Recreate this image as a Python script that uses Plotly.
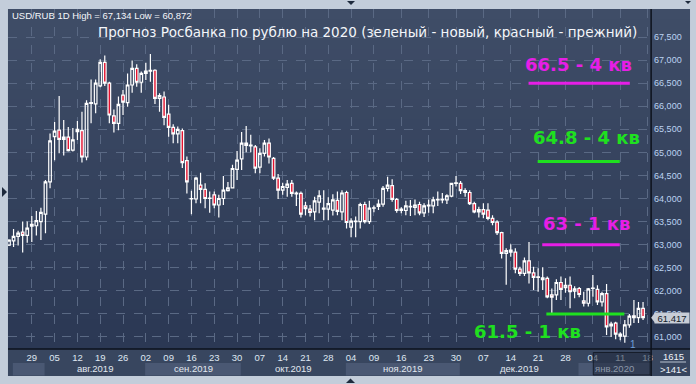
import plotly.graph_objects as go

W, H = 696, 384

# ---------------- data ----------------
opens = [62.99, 63.08, 63.18, 63.27, 63.20, 63.40, 63.41, 63.50, 63.66, 64.36,
         65.34, 65.48, 65.28, 65.33, 65.05, 65.45, 65.47, 64.90, 66.06, 66.05,
         66.44, 66.95, 66.50, 65.79, 65.63, 66.24, 66.08, 66.46, 66.82, 66.52,
         66.71, 66.76, 66.78, 66.17, 66.20, 65.83, 65.54, 65.40, 65.47, 64.82,
         63.99, 63.99, 64.29, 64.20, 64.00, 64.08, 63.86, 64.00, 64.17, 64.23,
         64.63, 64.86, 65.20, 65.14, 65.12, 64.68, 64.98, 65.20, 64.87, 64.44,
         64.18, 64.24, 64.33, 64.10, 64.11, 63.84, 63.77, 63.71, 63.92, 63.77,
         63.77, 63.75, 63.96, 63.71, 64.13, 63.38, 63.50, 63.50, 63.87, 63.50,
         63.79, 63.83, 63.88, 64.22, 64.28, 63.98, 63.74, 63.74, 63.82, 63.81,
         63.87, 63.69, 63.84, 63.84, 63.97, 63.97, 63.97, 64.05, 64.33, 64.33,
         64.17, 64.13, 63.89, 63.71, 63.76, 63.75, 63.57, 63.49, 63.26, 62.81,
         62.88, 62.84, 62.47, 62.38, 62.65, 62.39, 62.29, 62.28, 62.27, 61.91,
         61.91, 62.18, 62.07, 62.12, 61.99, 62.05, 61.78, 61.73, 62.05, 62.03,
         61.76, 61.94, 61.28, 61.30, 61.06, 61.02, 61.26, 61.46, 61.42, 61.62]
highs = [63.12, 63.34, 63.30, 63.50, 63.50, 63.62, 63.73, 63.80, 64.40, 65.41,
         65.66, 66.22, 65.70, 65.55, 65.53, 65.68, 65.88, 66.13, 66.58, 66.58,
         67.02, 67.10, 66.53, 65.93, 66.21, 66.35, 66.71, 66.99, 66.91, 66.75,
         66.94, 67.134, 66.80, 66.28, 66.32, 66.03, 65.61, 65.56, 65.52, 64.91,
         64.17, 64.47, 64.56, 64.33, 64.15, 64.15, 64.08, 64.49, 64.36, 64.73,
         65.03, 65.44, 65.57, 65.38, 65.16, 65.09, 65.27, 65.30, 64.90, 64.53,
         64.34, 64.40, 64.40, 64.15, 64.15, 63.93, 63.86, 64.04, 64.18, 64.18,
         64.03, 64.09, 64.15, 64.18, 64.17, 63.57, 63.61, 63.91, 63.93, 63.95,
         63.85, 63.98, 64.27, 64.47, 64.42, 64.01, 63.81, 63.95, 63.97, 63.98,
         63.93, 63.90, 63.98, 64.04, 64.15, 64.12, 64.09, 64.34, 64.49, 64.38,
         64.22, 64.18, 63.93, 63.82, 63.90, 63.90, 63.64, 63.53, 63.28, 62.92,
         63.01, 62.92, 62.52, 62.72, 63.06, 62.52, 62.49, 62.51, 62.31, 62.05,
         62.25, 62.31, 62.27, 62.31, 62.10, 62.08, 61.98, 62.06, 62.34, 62.12,
         61.98, 62.15, 61.33, 61.33, 61.10, 61.37, 61.50, 61.80, 61.76, 61.76]
lows = [62.97, 62.95, 62.98, 62.83, 63.04, 63.06, 63.20, 63.10, 63.25, 64.22,
        64.83, 64.98, 64.93, 65.02, 65.02, 65.27, 64.78, 64.83, 65.63, 65.85,
        66.41, 66.44, 65.63, 65.43, 65.48, 65.81, 65.99, 66.29, 66.42, 66.29,
        66.57, 66.53, 66.05, 65.88, 65.59, 65.34, 65.20, 65.20, 64.66, 64.11,
        63.66, 63.90, 63.90, 63.79, 63.69, 63.79, 63.59, 63.86, 64.15, 64.22,
        64.40, 64.62, 65.00, 65.00, 64.55, 64.55, 64.91, 64.76, 64.40, 63.99,
        64.08, 64.04, 64.04, 63.84, 63.59, 63.64, 63.61, 63.53, 63.68, 63.53,
        63.53, 63.63, 63.64, 63.53, 63.35, 63.16, 63.16, 63.35, 63.46, 63.45,
        63.70, 63.75, 63.82, 64.15, 63.93, 63.69, 63.68, 63.64, 63.62, 63.64,
        63.64, 63.60, 63.69, 63.68, 63.84, 63.90, 63.88, 64.03, 64.26, 64.10,
        64.04, 63.86, 63.68, 63.59, 63.57, 63.53, 63.42, 63.21, 62.70, 62.13,
        62.74, 62.38, 62.32, 62.32, 62.16, 62.02, 61.98, 62.02, 61.84, 61.51,
        61.80, 61.80, 61.96, 61.62, 61.84, 61.86, 61.66, 61.66, 61.87, 61.69,
        61.66, 61.04, 61.00, 60.95, 60.93, 60.872, 61.20, 61.30, 61.30, 61.37]
closes = [63.10, 63.18, 63.25, 63.20, 63.36, 63.44, 63.52, 63.70, 64.36, 65.25,
          65.46, 65.28, 65.33, 65.04, 65.27, 65.50, 64.90, 66.06, 66.08, 66.50,
          66.95, 66.50, 65.81, 65.63, 66.04, 66.09, 66.46, 66.82, 66.52, 66.71,
          66.76, 66.78, 66.17, 66.23, 65.76, 65.54, 65.40, 65.50, 64.78, 64.36,
          64.00, 64.44, 64.20, 64.00, 64.01, 63.86, 64.00, 64.18, 64.23, 64.65,
          64.83, 65.20, 65.15, 65.16, 64.66, 64.98, 65.20, 64.90, 64.44, 64.18,
          64.26, 64.31, 64.11, 64.12, 63.66, 63.78, 63.70, 63.95, 64.06, 63.79,
          63.89, 63.97, 63.72, 64.12, 63.48, 63.51, 63.51, 63.87, 63.50, 63.79,
          63.80, 63.88, 64.22, 64.29, 63.98, 63.74, 63.77, 63.84, 63.83, 63.86,
          63.69, 63.84, 63.86, 63.97, 63.98, 63.98, 64.06, 64.33, 64.34, 64.17,
          64.13, 63.89, 63.71, 63.76, 63.66, 63.57, 63.48, 63.26, 62.81, 62.87,
          62.84, 62.47, 62.38, 62.65, 62.39, 62.29, 62.30, 62.24, 61.87, 61.86,
          62.18, 62.03, 62.12, 61.98, 62.04, 61.92, 61.73, 62.04, 62.06, 61.76,
          61.94, 61.22, 61.24, 61.06, 61.02, 61.26, 61.45, 61.42, 61.62, 61.417]
bar_idx = list(range(len(closes)))

price_ticks = [61.0, 61.5, 62.0, 62.5, 63.0, 63.5, 64.0, 64.5, 65.0, 65.5,
               66.0, 66.5, 67.0, 67.5]

date_tick_idx = [5, 10, 15, 20, 25, 30, 35, 40, 45, 50, 55, 60, 65, 70, 75,
                 80, 86, 92, 98, 104, 110, 116, 122, 128, 134, 140]
date_tick_labels = ["29", "05", "12", "19", "26", "02", "09", "16", "23", "30",
                    "07", "14", "21", "28", "04", "09", "16", "23", "30", "07",
                    "14", "21", "28", "04", "11", "18"]

month_start_idx = [1, 8, 30, 51, 74, 99, 125]
month_labels = ["июл.2019", "авг.2019", "сен.2019", "окт.2019", "ноя.2019",
                "дек.2019", "янв.2020"]

forecast_levels = [66.5, 64.8, 63.0, 61.5]
forecast_quarters = [4, 4, 1, 1]
forecast_is_new = [False, True, False, True]   # green = new, magenta = previous

title_text = "Прогноз Росбанка по рублю на 2020 (зеленый - новый, красный - прежний)"
symbol_text = "USD/RUB 1D"
bars_total = 1615
bars_visible = 141

# ---------------- helpers ----------------
def px(x):
    return x / W

def py(y):
    return 1 - y / H

X0, X1 = -0.22, 140.77           # visible bar-index range
Y0, Y1 = 60.739, 68.107          # visible price range

def fmt_price(v):
    return f"{v:.3f}".replace(".", ",")

FRAME = "#c3cdda"
shapes = []

# gradient background for plot + right axis panel
top_c = (63, 77, 103)
bot_c = (43, 56, 84)
n = 34
for k in range(n):
    t = k / (n - 1)
    c = tuple(int(round(top_c[j] + (bot_c[j] - top_c[j]) * t)) for j in range(3))
    ya = 9 + k * 10
    shapes.append(dict(type="rect", xref="paper", yref="paper", layer="below",
                       x0=px(8), x1=px(692), y0=py(ya + 10.5), y1=py(ya),
                       fillcolor=f"rgb{c}", line=dict(width=0)))

# date axis strip
shapes.append(dict(type="rect", xref="paper", yref="paper", layer="below",
                   x0=px(8), x1=px(692), y0=py(376), y1=py(349),
                   fillcolor="#38465f", line=dict(width=0)))
# month bands
for k, s in enumerate(month_start_idx):
    e = month_start_idx[k + 1] if k + 1 < len(month_start_idx) else X1 + 0.15
    col = "#4a5873" if k % 2 == 0 else "#38465f"
    shapes.append(dict(type="rect", xref="x", yref="paper", layer="below",
                       x0=s - 0.15, x1=e - 0.15, y0=py(375.5), y1=py(363),
                       fillcolor=col, line=dict(width=0)))

# forecast level lines
spans = {66.5: (113.9, 136.1), 64.8: (115.9, 133.9),
         63.0: (116.9, 133.9), 61.5: (117.8, 134.9)}
for lvl, isnew in zip(forecast_levels, forecast_is_new):
    col = "#1fe01f" if isnew else "#e61ee6"
    a, b = spans[lvl]
    shapes.append(dict(type="line", xref="x", yref="y", x0=a, x1=b, y0=lvl, y1=lvl,
                       line=dict(color=col, width=3), layer="above"))

# separators
shapes.append(dict(type="line", xref="paper", yref="paper", x0=px(653), x1=px(653),
                   y0=py(376), y1=py(9), line=dict(color="#0d121c", width=1.5), layer="above"))
shapes.append(dict(type="line", xref="paper", yref="paper", x0=px(8), x1=px(692),
                   y0=py(349), y1=py(349), line=dict(color="#0d121c", width=1.5), layer="above"))
# dim overlay box over current period on date strip
shapes.append(dict(type="rect", xref="paper", yref="paper", x0=px(595), x1=px(652),
                   y0=py(375), y1=py(352.5), fillcolor="rgba(32,42,60,0.55)",
                   line=dict(color="rgba(20,26,38,0.9)", width=1), layer="above"))
# line in corner panel
shapes.append(dict(type="line", xref="paper", yref="paper", x0=px(662), x1=px(688),
                   y0=py(362), y1=py(362), line=dict(color="#b8c2d0", width=1), layer="above"))
# price marker arrow
shapes.append(dict(type="path", xref="paper", yref="paper", layer="above",
                   path=f"M {px(653)},{py(317.7)} L {px(657)},{py(312.5)} L {px(657)},{py(323)} Z",
                   fillcolor="#c8cdd6", line=dict(width=0)))
# frame triangles
def tri(path_pts, col="#1e2a3c"):
    p = "M " + " L ".join(f"{px(a)},{py(b)}" for a, b in path_pts) + " Z"
    shapes.append(dict(type="path", xref="paper", yref="paper", layer="above",
                       path=p, fillcolor=col, line=dict(width=0)))
tri([(2, 187), (7, 192), (2, 197)])
tri([(348, 1), (356, 1), (352, 5)])
tri([(687, 1), (693, 1), (690, 4)])
tri([(347, 383), (356, 383), (351.5, 378.5)])

# ---------------- annotations ----------------
ann = []
ann.append(dict(xref="paper", yref="paper", x=px(10), y=py(15.5), xanchor="left",
                yanchor="middle", showarrow=False,
                text=f"{symbol_text} High = {fmt_price(max(highs))} Low = {fmt_price(min(lows))}",
                font=dict(family="Liberation Sans, Arial", size=9.5, color="#f4f6fa")))
ann.append(dict(xref="paper", yref="paper", x=px(96), y=py(32), xanchor="left",
                yanchor="middle", showarrow=False, text=title_text,
                font=dict(family="DejaVu Sans", size=13.5, color="#f4f6fa")))

text_pos = {66.5: (124.8, 18.5), 64.8: (126.7, 24), 63.0: (126.6, 21), 61.5: (113.7, -18)}
for lvl, q, isnew in zip(forecast_levels, forecast_quarters, forecast_is_new):
    col = "#1fe01f" if isnew else "#e61ee6"
    xx, ys = text_pos[lvl]
    ann.append(dict(xref="x", yref="y", x=xx, y=lvl, yshift=ys, showarrow=False,
                    xanchor="center", yanchor="middle",
                    text=f"<b>{lvl:g} - {q} кв</b>",
                    font=dict(family="DejaVu Sans", size=18, color=col)))

# month labels
for k, s in enumerate(month_start_idx):
    e = month_start_idx[k + 1] if k + 1 < len(month_start_idx) else X1 + 0.15
    if e - s < 10:
        continue
    last = k == len(month_start_idx) - 1
    ann.append(dict(xref="x", yref="paper", x=(s + e) / 2 - 0.15, y=py(368.5),
                    showarrow=False, xanchor="center", yanchor="middle",
                    text=month_labels[k],
                    font=dict(family="Liberation Sans, Arial", size=9.5,
                              color="#8c97a8" if last else "#e2e8f0")))

# last price box
ann.append(dict(xref="paper", yref="y", x=px(674), y=closes[-1], showarrow=False,
                xanchor="center", yanchor="middle", text=fmt_price(closes[-1]),
                bgcolor="#c8cdd6", width=33, height=9, borderpad=0.5,
                font=dict(family="Liberation Sans, Arial", size=9.5, color="#141c2a")))
# corner panel
ann.append(dict(xref="paper", yref="paper", x=px(675), y=py(356.5), showarrow=False,
                xanchor="center", yanchor="middle",
                text=str(bars_total), font=dict(family="Liberation Sans, Arial", size=9.5,
                                                color="#eef2f8")))
ann.append(dict(xref="paper", yref="paper", x=px(675), y=py(369), showarrow=False,
                xanchor="center", yanchor="middle",
                text=f"&gt;{bars_visible}&lt;", font=dict(family="Liberation Sans, Arial",
                                                       size=9.5, color="#eef2f8")))
# event marker
ann.append(dict(xref="x", yref="paper", x=136.7, y=py(344), showarrow=False,
                xanchor="center", yanchor="middle",
                text="1", font=dict(family="Liberation Sans, Arial", size=10, color="#6f9fd8")))

# ---------------- figure ----------------
fig = go.Figure(go.Candlestick(
    x=bar_idx, open=opens, high=highs, low=lows, close=closes,
    increasing=dict(line=dict(color="#ffffff", width=1.2), fillcolor="rgba(0,0,0,0)"),
    decreasing=dict(line=dict(color="#ffffff", width=1.2), fillcolor="#e3122f"),
    whiskerwidth=0, hoverinfo="skip", showlegend=False))

fig.update_layout(
    width=W, height=H, margin=dict(l=0, r=0, t=0, b=0),
    paper_bgcolor=FRAME, plot_bgcolor="rgba(0,0,0,0)",
    boxgap=0.18,
    shapes=shapes, annotations=ann, showlegend=False,
    xaxis=dict(domain=[px(8), px(653)], range=[X0, X1], rangeslider=dict(visible=False),
               tickmode="array", tickvals=date_tick_idx, ticktext=date_tick_labels,
               showgrid=True, gridcolor="#5a6984", griddash="dash", gridwidth=1,
               zeroline=False, showline=False, ticks="", ticklabelstandoff=1,
               tickfont=dict(family="Liberation Sans, Arial", size=9.5, color="#dfe7f2")),
    yaxis=dict(domain=[py(349), py(9)], range=[Y0, Y1], side="right",
               tickmode="array", tickvals=price_ticks,
               ticktext=[fmt_price(v) for v in price_ticks],
               showgrid=True, gridcolor="#5a6984", griddash="dash", gridwidth=1,
               zeroline=False, showline=False, ticks="", ticklabelstandoff=2,
               tickfont=dict(family="Liberation Sans, Arial", size=9, color="#bcd3f2")),
)

fig.write_html("out.html")
